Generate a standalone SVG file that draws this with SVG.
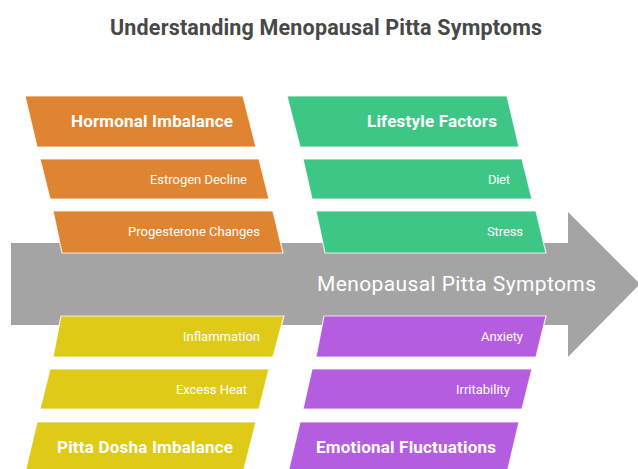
<svg xmlns="http://www.w3.org/2000/svg" width="638" height="469" viewBox="0 0 638 469">
<style>
.title{font-family:Roboto,"Liberation Sans",sans-serif;font-weight:700;font-size:21.5px;fill:#484848;text-anchor:middle}
.h{font-family:Roboto,"Liberation Sans",sans-serif;font-weight:700;font-size:17px;fill:#ffffff;text-anchor:end}
.s{font-family:Roboto,"Liberation Sans",sans-serif;font-weight:400;font-size:13px;fill:#ffffff;text-anchor:end}
.c{font-family:Roboto,"Liberation Sans",sans-serif;font-weight:400;font-size:21px;fill:#ffffff;text-anchor:start}
.shape{stroke:#ffffff;stroke-width:1.2;stroke-opacity:0.8}
.or{fill:#DF8531}
.gr{fill:#3EC686}
.ye{fill:#DFCB17}
.pu{fill:#B55DE1}
.ar{fill:#A4A4A4}
</style>
<rect width="638" height="469" fill="#ffffff"/>
<text class="title" x="326" y="35" textLength="432" lengthAdjust="spacing">Understanding Menopausal Pitta Symptoms</text>

<g id="connectors">
<g id="spine">
<polygon class="ar" points="11,243 568,243 568,212 640,284 568,357 568,325 11,325"/>
<text class="c" x="317" y="291" textLength="279" lengthAdjust="spacing">Menopausal Pitta Symptoms</text>
</g>
</g>

<g id="hormonal-imbalance">
<polygon class="shape or" points="25,96 243,96 256,147 37,147"/>
<text class="h" x="233" y="127" textLength="162" lengthAdjust="spacing">Hormonal Imbalance</text>
</g>
<g id="estrogen-decline">
<polygon class="shape or" points="40,159 259,159 269,199 50,199"/>
<text class="s" x="247" y="183.5" textLength="97" lengthAdjust="spacing">Estrogen Decline</text>
</g>
<g id="progesterone-changes">
<polygon class="shape or" points="53,211 273,211 283,253 62,253"/>
<text class="s" x="260" y="236" textLength="132" lengthAdjust="spacing">Progesterone Changes</text>
</g>

<g id="lifestyle-factors">
<polygon class="shape gr" points="287,96 507,96 519,147 300,147"/>
<text class="h" x="497" y="127" textLength="130" lengthAdjust="spacing">Lifestyle Factors</text>
</g>
<g id="diet">
<polygon class="shape gr" points="303,159 522,159 532,199 312,199"/>
<text class="s" x="510" y="183.5" textLength="22" lengthAdjust="spacing">Diet</text>
</g>
<g id="stress">
<polygon class="shape gr" points="316,211 536,211 546,253 325,253"/>
<text class="s" x="523" y="236" textLength="36" lengthAdjust="spacing">Stress</text>
</g>

<g id="inflammation">
<polygon class="shape ye" points="61,316 284,316 273,357 53,357"/>
<text class="s" x="260" y="341" textLength="77" lengthAdjust="spacing">Inflammation</text>
</g>
<g id="excess-heat">
<polygon class="shape ye" points="50,369 269,369 259,409 40,409"/>
<text class="s" x="247" y="393.5" textLength="71" lengthAdjust="spacing">Excess Heat</text>
</g>
<g id="pitta-dosha-imbalance">
<polygon class="shape ye" points="37,422 256,422 243,473 25,473"/>
<text class="h" x="233" y="453" textLength="176" lengthAdjust="spacing">Pitta Dosha Imbalance</text>
</g>

<g id="anxiety">
<polygon class="shape pu" points="324,316 546,316 536,357 316,357"/>
<text class="s" x="523" y="341" textLength="42" lengthAdjust="spacing">Anxiety</text>
</g>
<g id="irritability">
<polygon class="shape pu" points="312,369 532,369 522,409 303,409"/>
<text class="s" x="510" y="393.5" textLength="54" lengthAdjust="spacing">Irritability</text>
</g>
<g id="emotional-fluctuations">
<polygon class="shape pu" points="300,422 519,422 507,473 288,473"/>
<text class="h" x="496" y="453" textLength="180" lengthAdjust="spacing">Emotional Fluctuations</text>
</g>
</svg>
